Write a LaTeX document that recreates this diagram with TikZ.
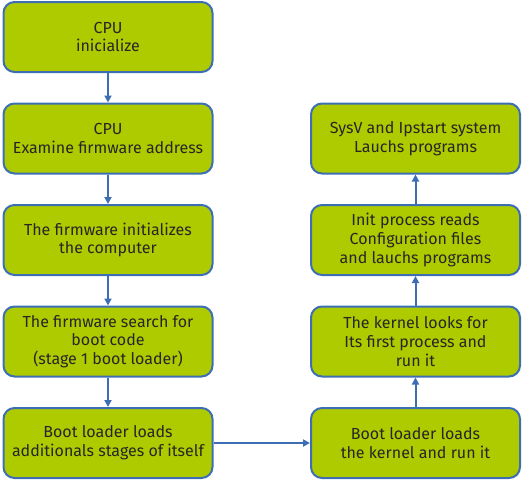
\documentclass[tikz,border=0pt]{standalone}
\usepackage{fontspec}
\setmainfont{Fira Sans}
\usepackage{tikz}
\usepackage{xcolor}
\usetikzlibrary{shapes,arrows.meta,positioning,calc}
\definecolor{bootgreen}{RGB}{174,203,0}
\definecolor{bootblue}{RGB}{61,110,180}

\begin{document}
\begin{tikzpicture}[x=1pt, y=-1pt,
    bootbox/.style={draw=bootblue, line width=2pt, fill=bootgreen, rounded corners=11pt,
        minimum width=209pt, minimum height=70pt, align=center,
        font=\fontsize{16}{18.8}\selectfont, text=black!85},
    flow/.style={-{Triangle[length=7pt,width=7pt]}, draw=bootblue, line width=2pt}]
    \useasboundingbox (0,0) rectangle (523,480);

    % Left column
    \node[bootbox] (cpu) at (108,37) {CPU\\inicialize};
    \node[bootbox] (exam) at (108,138.5) {CPU\\Examine firmware address};
    \node[bootbox] (init) at (108,240) {The firmware initializes\\the computer};
    \node[bootbox] (search) at (108,341.5) {The firmware search for\\boot code\\(stage 1 boot loader)};
    \node[bootbox] (stages) at (108,443) {Boot loader loads\\additionals stages of itself};

    % Right column
    \node[bootbox] (kernel) at (415.5,443) {Boot loader loads\\the kernel and run it};
    \node[bootbox] (first) at (415.5,341.5) {The kernel looks for\\Its first process and\\run it};
    \node[bootbox] (conf) at (415.5,240) {Init process reads\\Configuration files\\and lauchs programs};
    \node[bootbox] (sysv) at (415.5,138.5) {SysV and Ipstart system\\Lauchs programs};

    % Arrows
    \draw[flow] (cpu) -- (exam);
    \draw[flow] (exam) -- (init);
    \draw[flow] (init) -- (search);
    \draw[flow] (search) -- (stages);
    \draw[flow] (stages) -- (kernel);
    \draw[flow] (kernel) -- (first);
    \draw[flow] (first) -- (conf);
    \draw[flow] (conf) -- (sysv);
\end{tikzpicture}
\end{document}
